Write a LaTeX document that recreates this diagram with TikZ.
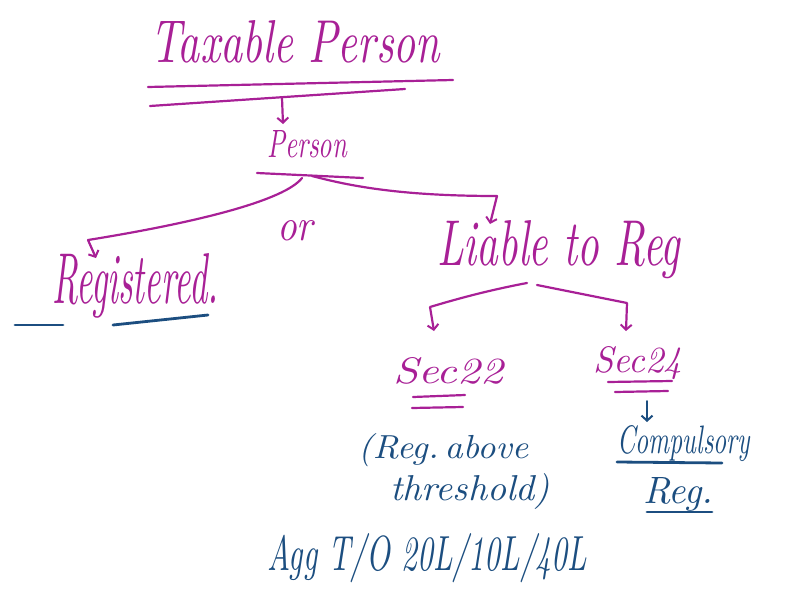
\documentclass[tikz,border=0pt]{standalone}
\usetikzlibrary{arrows.meta}
\definecolor{pen}{RGB}{168,32,150}
\definecolor{ink}{RGB}{28,78,128}
% hand-lettered label: text stretched to a given width and height
\newcommand\hw[3]{\resizebox{#1}{#2}{#3}}
\tikzset{
  mag/.style={draw=pen, line width=2.2pt, line cap=round, line join=round},
  blu/.style={draw=ink, line width=2.8pt, line cap=round},
  tip/.style={-{Straight Barb[length=5pt,width=11pt,line width=2pt]}},
  mtext/.style={text=pen, inner sep=0pt, anchor=base west, font=\itshape},
  btext/.style={text=ink, inner sep=0pt, anchor=base west, font=\itshape},
}
\begin{document}
\begin{tikzpicture}[x=1pt,y=-1pt]
\useasboundingbox (0,0) rectangle (787,597);

% ---- labels ----
\node[mtext] (tp)  at (150,62)  {\hw{290pt}{42pt}{Taxable Person}};
\node[mtext] (ps)  at (267,157) {\hw{80pt}{27pt}{Person}};
\node[mtext] (or)  at (277,240) {\hw{36pt}{20pt}{or}};
\node[mtext] (reg) at (52,303)  {\hw{166pt}{50pt}{Registered.}};
\node[mtext] (lia) at (437,265) {\hw{243pt}{45pt}{Liable to Reg}};
\node[mtext] (s22) at (393,383) {\hw{110pt}{26pt}{Sec22}};
\node[mtext] (s24) at (593,372) {\hw{89pt}{26pt}{Sec24}};
\node[btext] (ra)  at (358,458) {\hw{170pt}{25pt}{(Reg.\,above}};
\node[btext] (th)  at (390,500) {\hw{160pt}{27pt}{threshold)}};
\node[btext] (cp)  at (617,453) {\hw{133pt}{28pt}{Compulsory}};
\node[btext] (rg)  at (643,503) {\hw{70pt}{26pt}{Reg.}};
\node[btext] (agg) at (267,570) {\hw{320pt}{37pt}{Agg T/O 20L/10L/40L}};

% ---- underlines ----
\draw[mag] (148,87) -- (453,80);
\draw[mag] (150,106) -- (405,89);
\draw[mag] (257,173) -- (363,178);
\draw[blu] (15,325) -- (63,325);
\draw[blu] (113,325) -- (208,315);
\draw[mag] (413,397) -- (465,395);
\draw[mag] (412,408) -- (463,407);
\draw[mag] (608,382) -- (672,381);
\draw[mag] (615,392) -- (668,391);
\draw[blu] (617,462) -- (722,463);
\draw[blu] (647,512) -- (712,512);

% ---- branch points and arrow ends ----
\coordinate (tpA) at (282,98);
\coordinate (psT) at (283,124);
\coordinate (psL) at (302,178);
\coordinate (psR) at (312,176);
\coordinate (regC) at (88,240);
\coordinate (regT) at (96,258);
\coordinate (liaC) at (497,196);
\coordinate (liaT) at (490,224);
\coordinate (liL) at (527,283);
\coordinate (liR) at (537,285);
\coordinate (s22C) at (430,307);
\coordinate (s22T) at (434,331);
\coordinate (s24C) at (627,303);
\coordinate (s24T) at (626,331);
\coordinate (cpA) at (647,401);
\coordinate (cpT) at (647,422);

% ---- connectors ----
\draw[mag,tip] (tpA) -- (psT);
\draw[mag,tip] (psL) .. controls (285,200) and (200,222) .. (regC) -- (regT);
\draw[mag,tip] (psR) .. controls (350,186) and (400,196) .. (liaC) -- (liaT);
\draw[mag,tip] (liL) .. controls (490,290) and (460,298) .. (s22C) -- (s22T);
\draw[mag,tip] (liR) -- (s24C) -- (s24T);
\draw[draw=ink,line width=2pt,line cap=round,tip] (cpA) -- (cpT);
\end{tikzpicture}
\end{document}
